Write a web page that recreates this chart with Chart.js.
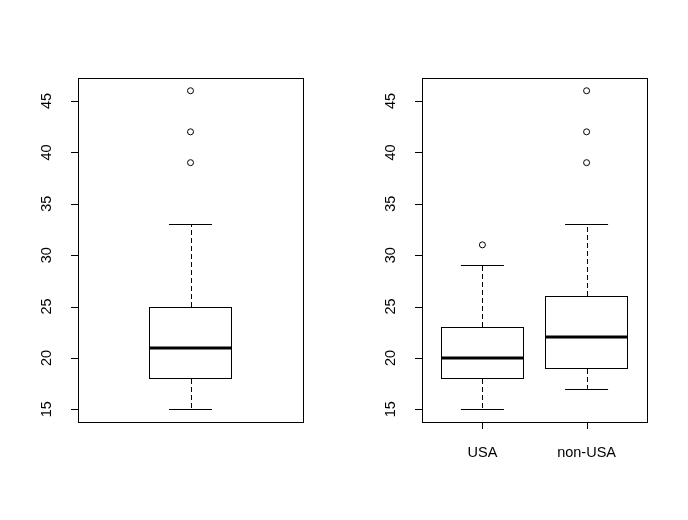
<!DOCTYPE html>
<html>
<head>
<meta charset="utf-8">
<script src="https://cdn.jsdelivr.net/npm/chart.js@4"></script>
<style>
  body { margin: 0; background: #fff; }
  #wrap { position: relative; width: 688px; height: 520px; }
  canvas { position: absolute; top: 0; }
</style>
</head>
<body>
<div id="wrap">
  <canvas id="left-box" width="344" height="520" style="left:0"></canvas>
  <canvas id="right-box" width="344" height="520" style="left:344px"></canvas>
</div>
<script>
// y ticks shared by both panels
var yTicks = [15, 20, 25, 30, 35, 40, 45];

// left panel: all cars
var allLow = [15];
var allQ1 = [18];
var allMedian = [21];
var allQ3 = [25];
var allHigh = [33];
var allOutliers = [[39, 42, 46]];

// right panel: by origin
var groups = ['USA', 'non-USA'];
var grpLow = [15, 17];
var grpQ1 = [18, 19];
var grpMedian = [20, 22];
var grpQ3 = [23, 26];
var grpHigh = [29, 33];
var grpOutliers = [[31], [39, 42, 46]];

var FONT = '14.5px "Liberation Sans", Arial, sans-serif';

// draws frame, axes, whiskers and medians the R way
var rBoxPlugin = {
    id: 'rbox',
    afterDatasetsDraw: function(chart, args, opts) {
        var ctx = chart.ctx;
        var area = chart.chartArea;
        var xs = chart.scales.x;
        var ys = chart.scales.y;
        var px = function(v) { return Math.round(v) + 0.5; };
        var bars = chart.getDatasetMeta(0).data;
        ctx.save();
        ctx.strokeStyle = '#000';
        ctx.fillStyle = '#000';
        ctx.lineWidth = 1;

        for (var i = 0; i < opts.median.length; i++) {
            var cx = xs.getPixelForValue(i + 1);
            var half = opts.capWidth / 2;
            // crisp outline over the bar element
            var b = bars[i];
            var bl = Math.round(b.x - b.width / 2), br = Math.round(b.x + b.width / 2);
            var bt = Math.round(Math.min(b.y, b.base)), bb = Math.round(Math.max(b.y, b.base));
            ctx.strokeRect(bl + 0.5, bt + 0.5, br - bl - 1, bb - bt);
            // dashed whiskers
            ctx.setLineDash([5, 3]);
            ctx.beginPath();
            ctx.moveTo(px(cx), bt);
            ctx.lineTo(px(cx), ys.getPixelForValue(opts.high[i]));
            ctx.moveTo(px(cx), bb + 1);
            ctx.lineTo(px(cx), ys.getPixelForValue(opts.low[i]));
            ctx.stroke();
            ctx.setLineDash([]);
            // caps
            ctx.beginPath();
            ctx.moveTo(cx - half, px(ys.getPixelForValue(opts.high[i])));
            ctx.lineTo(cx + half, px(ys.getPixelForValue(opts.high[i])));
            ctx.moveTo(cx - half, px(ys.getPixelForValue(opts.low[i])));
            ctx.lineTo(cx + half, px(ys.getPixelForValue(opts.low[i])));
            ctx.stroke();
            // median
            ctx.lineWidth = 3;
            ctx.beginPath();
            ctx.moveTo(bl, Math.round(ys.getPixelForValue(opts.median[i])));
            ctx.lineTo(br, Math.round(ys.getPixelForValue(opts.median[i])));
            ctx.stroke();
            ctx.lineWidth = 1;
        }

        // frame
        ctx.strokeRect(px(area.left), px(area.top), Math.round(area.right - area.left), Math.round(area.bottom - area.top));

        // y axis ticks + rotated labels
        ctx.font = FONT;
        ctx.textAlign = 'center';
        ctx.textBaseline = 'alphabetic';
        ys.ticks.forEach(function(t) {
            var y = ys.getPixelForValue(t.value);
            ctx.beginPath();
            ctx.moveTo(area.left, px(y));
            ctx.lineTo(area.left - 7, px(y));
            ctx.stroke();
            ctx.save();
            ctx.translate(area.left - 27, y);
            ctx.rotate(-Math.PI / 2);
            ctx.fillText(String(t.value), 0, 0);
            ctx.restore();
        });

        // x axis ticks + labels
        if (opts.labels) {
            opts.labels.forEach(function(lab, i) {
                var x = xs.getPixelForValue(i + 1);
                ctx.beginPath();
                ctx.moveTo(px(x), area.bottom);
                ctx.lineTo(px(x), area.bottom + 7);
                ctx.stroke();
                ctx.fillText(lab, x, area.bottom + 35);
            });
        }
        ctx.restore();
    }
};

function makeBoxChart(id, low, q1, median, q3, high, outliers, labels) {
    var n = median.length;
    var boxData = q1.map(function(v, i) { return {x: i + 1, y: [v, q3[i]]}; });
    var outData = [];
    outliers.forEach(function(list, i) {
        list.forEach(function(v) { outData.push({x: i + 1, y: v}); });
    });
    // R pads the range by 4% on each side
    var xPad = 0.04 * n;
    var yMin = Math.min.apply(null, low.concat.apply(low, outliers));
    var yMax = Math.max.apply(null, high.concat.apply(high, outliers));
    var yPad = 0.04 * (yMax - yMin);

    return new Chart(document.getElementById(id), {
        type: 'bar',
        data: {
            datasets: [{
                type: 'bar',
                data: boxData,
                backgroundColor: '#fff',
                borderColor: '#fff',
                borderWidth: 0,
                borderSkipped: false,
                barThickness: 83
            }, {
                type: 'line',
                data: outData,
                showLine: false,
                pointRadius: 3,
                pointHoverRadius: 3,
                pointBorderWidth: 1,
                pointBorderColor: '#000',
                pointBackgroundColor: 'rgba(0,0,0,0)'
            }]
        },
        options: {
            responsive: false,
            animation: false,
            devicePixelRatio: 1,
            layout: {padding: {left: 78, top: 78, right: 41, bottom: 98}},
            plugins: {
                legend: {display: false},
                tooltip: {enabled: false},
                rbox: {
                    low: low, q1: q1, median: median, q3: q3, high: high,
                    labels: labels, capWidth: 43
                }
            },
            scales: {
                x: {
                    type: 'linear', display: false, offset: false,
                    grid: {offset: false},
                    min: 0.5 - xPad, max: n + 0.5 + xPad
                },
                y: {
                    type: 'linear', display: false,
                    min: yMin - yPad, max: yMax + yPad,
                    afterBuildTicks: function(axis) {
                        axis.ticks = yTicks.map(function(v) { return {value: v}; });
                    }
                }
            }
        },
        plugins: [rBoxPlugin]
    });
}

makeBoxChart('left-box', allLow, allQ1, allMedian, allQ3, allHigh, allOutliers, null);
makeBoxChart('right-box', grpLow, grpQ1, grpMedian, grpQ3, grpHigh, grpOutliers, groups);
</script>
</body>
</html>
